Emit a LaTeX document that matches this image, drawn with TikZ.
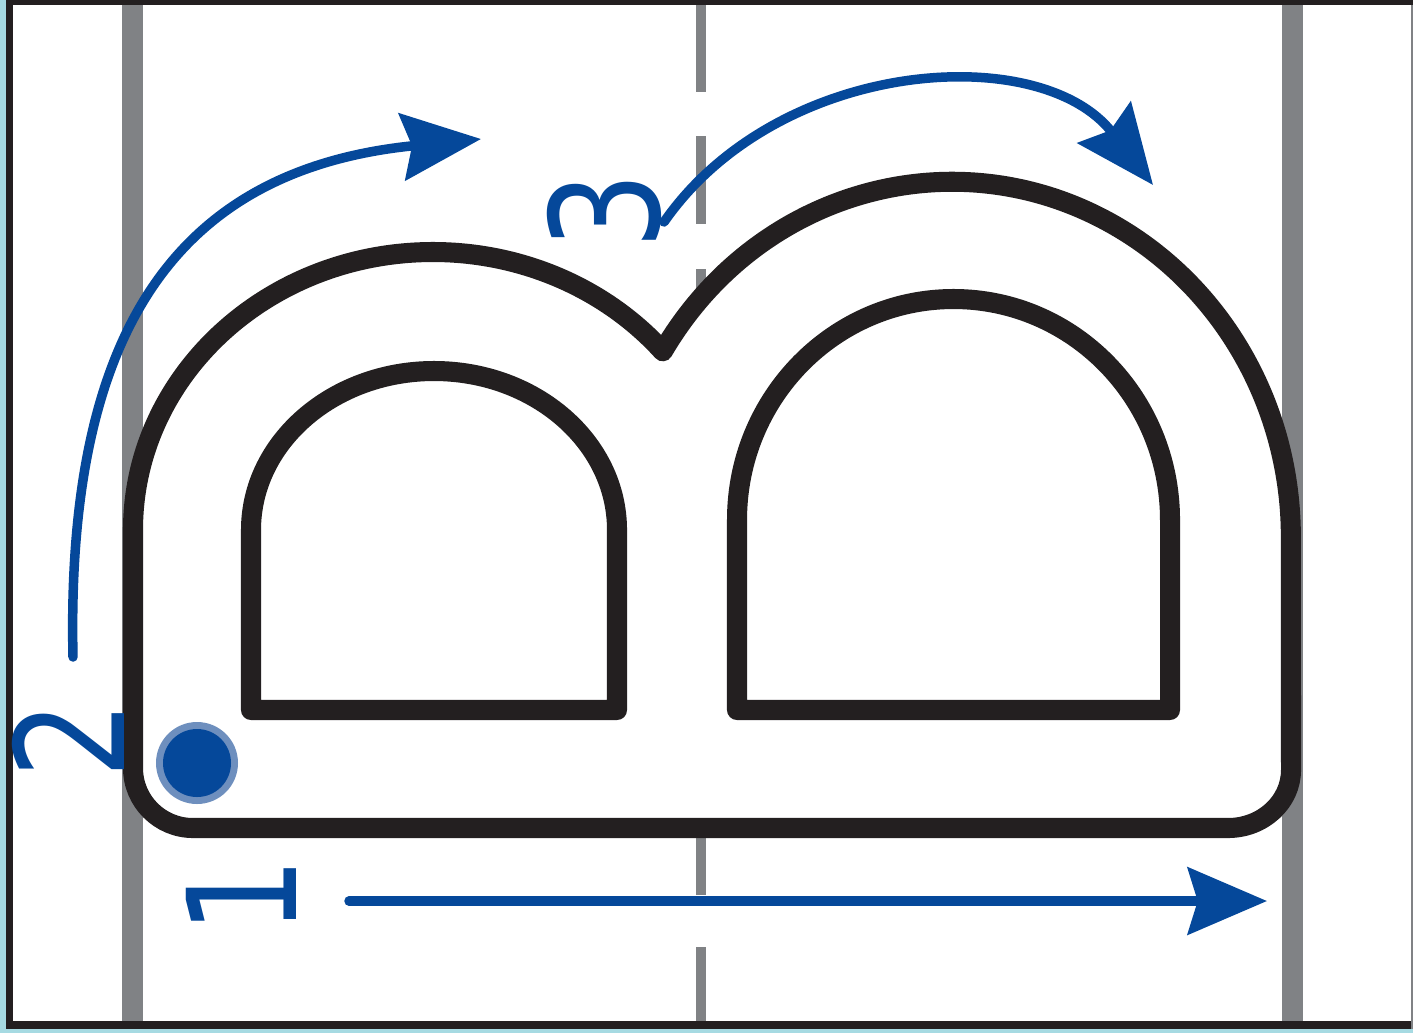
\documentclass[tikz,border=0pt]{standalone}
\usepackage{fontspec}
\usetikzlibrary{arrows.meta}
\newfontfamily\digitfont[FakeStretch=0.8]{DejaVu Sans}
\definecolor{frameblue}{RGB}{166,218,226}
\definecolor{inkblack}{RGB}{35,31,32}
\definecolor{guidegray}{RGB}{128,130,133}
\definecolor{traceblue}{RGB}{5,72,154}
\definecolor{ringblue}{RGB}{110,143,190}
\begin{document}
\begin{tikzpicture}[x=0.01cm, y=-0.01cm,
    guide/.style={draw=guidegray, line width=6pt},
    midguide/.style={draw=guidegray, line width=2.85pt},
    letter/.style={draw=inkblack, fill=white, line width=5.7pt, line join=round},
    trace/.style={draw=traceblue, line width=2.7pt, line cap=round,
        -{Stealth[length=22.5pt, width=19pt, inset=2.8pt]}},
    digit/.style={text=traceblue, inner sep=0pt, rotate=90,
        font=\digitfont\fontsize{43}{43}\selectfont}]
    \useasboundingbox (0,0) rectangle (1413,1033);

    \fill[frameblue] (0,0) rectangle (1413,1033);
    \fill[inkblack] (6,0) rectangle (1413,1029);
    \fill[white] (13,5) rectangle (1411,1021);
    \fill[guidegray] (1411,5) rectangle (1413,1029);

    \draw[guide] (132.5,5) -- (132.5,1021);
    \draw[guide] (1292.5,5) -- (1292.5,1021);
    \foreach \a/\b in {5/92, 136/224, 269/357, 401/489, 533/621, 665/753, 797/895, 947/1021}
        \draw[midguide] (700.7,\a) -- (700.7,\b);

    \draw[letter] (133,530)
        arc[start angle=180, end angle=320, x radius=300, y radius=278]
        arc[start angle=211.5, end angle=360, x radius=339, y radius=355]
        -- (1291,770) arc[start angle=0, end angle=90, x radius=63, y radius=58]
        -- (193,828) arc[start angle=90, end angle=180, radius=60] -- cycle;
    \draw[letter] (251,530) -- (251,710) -- (617,710) -- (617,530)
        arc[start angle=0, end angle=-180, x radius=183, y radius=159] -- cycle;
    \draw[letter] (737,520) -- (737,710) -- (1170,710) -- (1170,520)
        arc[start angle=0, end angle=-180, x radius=216.5, y radius=221] -- cycle;

    \draw[trace] (349,901) -- (1267,901);
    \draw[trace] (73,657) .. controls (66,340) and (170,170) .. (481,139);
    \draw[trace] (664,222) .. controls (778,58) and (1040,40) .. (1153,185);

    \fill[ringblue] (197,763) circle[radius=41];
    \fill[traceblue] (197,763) circle[radius=34];

    \node[digit] (one) at (241,896) {1};
    \node[digit] (two) at (68,740) {2};
    \node[digit] (three) at (604,211) {3};
\end{tikzpicture}
\end{document}
